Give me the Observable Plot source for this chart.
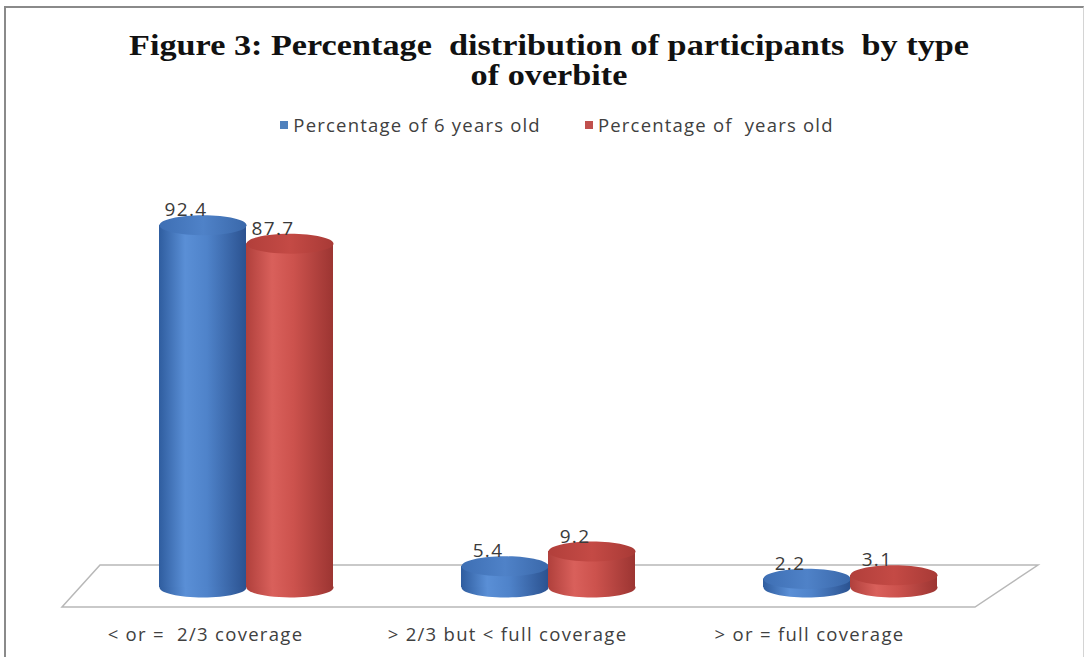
<!DOCTYPE html>
<html>
<head>
<meta charset="utf-8">
<script src="https://cdn.jsdelivr.net/npm/d3@7"></script>
<script src="https://cdn.jsdelivr.net/npm/@observablehq/plot@0.6"></script>
<style>
  body { margin: 0; background: #fff; width: 1086px; height: 657px; overflow: hidden; position: relative; }
  #frame { position: absolute; left: 4px; top: 6px; width: 1077px; height: 670px;
           border-top: 2px solid #8a8a8a; border-left: 2px solid #8a8a8a; border-right: 1px solid #d4d4d4; }
  #title { position: absolute; left: 6px; top: 30px; width: 1086px; text-align: center; white-space: pre;
           font: bold 29px/30px "Liberation Serif", "Times New Roman", serif; color: #111;
           transform: scaleX(1.18); transform-origin: 543px 0; }
  #legend { position: absolute; left: 14px; top: 112px; width: 1086px; display: flex; justify-content: center;
            gap: 44px; font: 18.5px "Open Sans", Lato, sans-serif; letter-spacing: 1.2px; color: #404040; white-space: pre; }
  #legend .item { display: flex; align-items: center; gap: 5px; }
  #legend .sw { width: 8px; height: 8px; display: inline-block; }
  #chart { position: absolute; left: 0; top: 150px; }
  #chart svg text { white-space: pre; letter-spacing: 1.3px; }
</style>
</head>
<body>
<div id="frame"></div>
<div id="title"></div>
<div id="legend"></div>
<div id="chart"></div>
<script>
// Overbite categories and the two age-group series (percentages)
const categories = ["< or =  2/3 coverage", "> 2/3 but < full coverage", "> or = full coverage"];
const seriesNames = ["Percentage of 6 years old", "Percentage of  years old"];
const sixYearsOld = [92.4, 5.4, 2.2];
const otherYearsOld = [87.7, 9.2, 3.1];
const seriesColors = ["#4f81bd", "#c0504d"];
const titleText = "Figure 3: Percentage  distribution of participants  by type\nof overbite";

const seriesValues = [sixYearsOld, otherYearsOld];
const rows = categories.flatMap((category, i) =>
  seriesNames.map((series, s) => ({category, series, s, value: seriesValues[s][i]}))
);

// Title and legend
document.getElementById("title").textContent = titleText;
const legend = d3.select("#legend");
seriesNames.forEach((name, s) => {
  const item = legend.append("div").attr("class", "item");
  item.append("span").attr("class", "sw").style("background", seriesColors[s]);
  item.append("span").text(name);
});

// Ellipse symbol used for the cylinder caps (flattened circle)
const ellipse = {
  draw(context, size) {
    const rx = Math.sqrt(size / Math.PI), ry = rx * 0.23, k = 0.5523;
    context.moveTo(-rx, 0);
    context.bezierCurveTo(-rx, -ry * k, -rx * k, -ry, 0, -ry);
    context.bezierCurveTo(rx * k, -ry, rx, -ry * k, rx, 0);
    context.bezierCurveTo(rx, ry * k, rx * k, ry, 0, ry);
    context.bezierCurveTo(-rx * k, ry, -rx, ry * k, -rx, 0);
    context.closePath();
  }
};

// Shading gradients for cylinder bodies and caps
function gradients() {
  const g = d3.create("svg:g");
  const defs = g.append("defs");
  const add = (id, stops) => {
    const lg = defs.append("linearGradient").attr("id", id)
      .attr("x1", 0).attr("x2", 1).attr("y1", 0).attr("y2", 0);
    stops.forEach(([o, c]) => lg.append("stop").attr("offset", o).attr("stop-color", c));
  };
  add("body0", [[0, "#2f5d9f"], [0.3, "#5a8fd6"], [0.55, "#4f83ca"], [1, "#2b5290"]]);
  add("top0", [[0, "#3e6fb4"], [0.5, "#4f82c8"], [1, "#3a68aa"]]);
  add("body1", [[0, "#b0403c"], [0.3, "#d9605b"], [0.55, "#cc524d"], [1, "#9c3532"]]);
  add("top1", [[0, "#b23f3b"], [0.5, "#c44a45"], [1, "#a83a36"]]);
  return g.node();
}

// Perspective floor under the cylinders
function floor(index, {y}, values, {width, marginLeft, marginRight}) {
  const y0 = y(0), right = width - marginRight;
  const pts = [[marginLeft - 33, y0 + 20], [right - 26, y0 + 20], [right + 37, y0 - 22], [marginLeft + 5, y0 - 22]];
  return d3.create("svg:polygon")
    .attr("points", pts.map(p => p.join(",")).join(" "))
    .attr("fill", "#fff").attr("stroke", "#b8b8b8").attr("stroke-width", 1.5)
    .node();
}

const half = 43.5;
const seriesMarks = [0, 1].flatMap(s => {
  const data = rows.filter(d => d.s === s);
  const dx = s === 0 ? -half : half;
  return [
    Plot.dot(data, {x: "category", y: () => 0, symbol: ellipse, r: half, fill: `url(#body${s})`, dx}),
    Plot.barY(data, {x: "category", y: "value", fill: `url(#body${s})`, insetLeft: 151 - half, insetRight: 151 - half, dx}),
    Plot.dot(data, {x: "category", y: "value", symbol: ellipse, r: half, fill: `url(#top${s})`, dx})
  ];
});
const labelMarks = [0, 1].map(s => {
  const data = rows.filter(d => d.s === s);
  const dx = (s === 0 ? -half : half) - 17;
  return Plot.text(data, {x: "category", y: "value", text: d => d.value.toFixed(1), dx, dy: -15,
    fontSize: 19, fill: "#3a3a3a"});
});

const chart = Plot.plot({
  width: 1086,
  height: 507,
  marginTop: 45,
  marginBottom: 70,
  marginLeft: 95,
  marginRight: 85,
  style: {fontFamily: "'Open Sans', Lato, sans-serif", background: "transparent"},
  x: {domain: categories, padding: 0, axis: null},
  y: {domain: [0, 100], axis: null},
  marks: [
    gradients,
    floor,
    ...seriesMarks,
    ...labelMarks,
    Plot.text(categories, {x: d => d, y: () => 0, dx: -41, dy: 48, fontSize: 18.5, fill: "#404040"})
  ]
});
document.getElementById("chart").appendChild(chart);
</script>
</body>
</html>
